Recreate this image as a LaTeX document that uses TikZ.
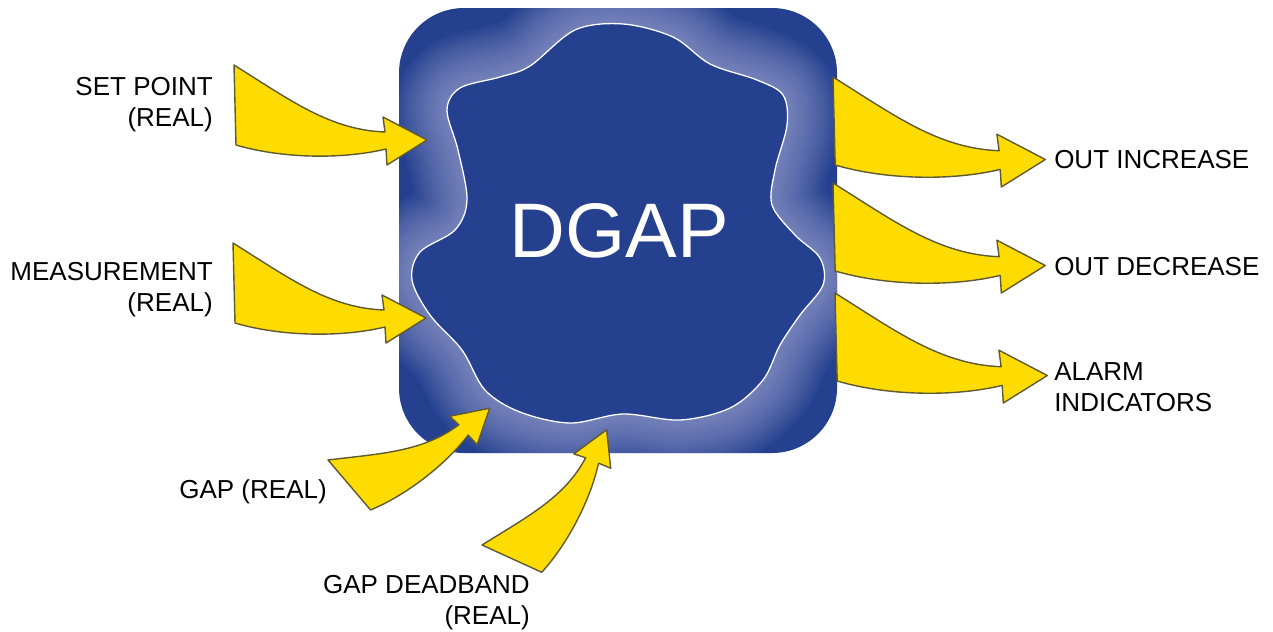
\documentclass[tikz,border=0pt]{standalone}
\usepackage{fontspec}
\setmainfont{Liberation Sans}
\definecolor{boxblue}{RGB}{36,64,142}
\definecolor{glowcol}{RGB}{185,185,228}
\definecolor{arrowfill}{RGB}{255,220,0}
\definecolor{arrowline}{RGB}{95,90,50}
\tikzset{
  yarrow/.style={fill=arrowfill, draw=arrowline, line width=1.2pt, line join=round},
  lbl/.style={inner sep=0pt, font=\fontsize{22.2}{26.4}\selectfont},
  bigtxt/.style={inner sep=0pt, text=white, font=\fontsize{66}{70}\selectfont},
}
\newcommand\blobshape{plot[smooth cycle, tension=0.55] coordinates {
 (623,24) (673,37) (710,64) (757,80) (783,95) (787,125) (775,170) (772,205)
 (795,235) (820,258) (823,285) (800,315) (780,345) (763,380) (730,408) (680,420)
 (623,414) (570,423) (520,412) (485,390) (462,350) (430,315) (412,280) (420,252)
 (455,230) (467,200) (458,150) (447,110) (460,88) (500,77) (530,66) (575,30)}}
\newcommand\yellowarrow[1]{%
 \begin{scope}[#1]
  \draw[yarrow] (0,0) .. controls (56,35) and (96,65) .. (151,67) -- (149,52)
     -- (193,75) -- (153,100) -- (152,84) .. controls (106,95) and (46,93) .. (2,80) -- cycle;
 \end{scope}}
\begin{document}
\begin{tikzpicture}[x=0.03cm, y=-0.03cm]
\useasboundingbox (0,0) rectangle (1273,631);
% box
\fill[boxblue, rounded corners=1.95cm] (399,8) rectangle (837,453);
\begin{scope}
 \clip[rounded corners=1.95cm] (399,8) rectangle (837,453);
 \foreach \w in {0.15,0.35,...,3.2} {
   \draw[glowcol, line width=\w cm, opacity=0.05, line join=round] \blobshape;
 }
\end{scope}
\fill[boxblue] \blobshape;
\draw[white, line width=1.1pt] \blobshape;
\node[bigtxt, anchor=base] (dgap) at (619,257) {DGAP};
% arrows
\yellowarrow{shift={(234,65)}}
\yellowarrow{shift={(233,243)}}
\yellowarrow{shift={(328,460)}, rotate=39, scale=0.82}
\yellowarrow{shift={(482,545)}, rotate=64, scale=0.82}
\yellowarrow{shift={(833,77)}, scale=1.1}
\yellowarrow{shift={(833,183)}, scale=1.1}
\yellowarrow{shift={(835,293)}, scale=1.1}
% labels
\node[lbl, anchor=north east, align=right] (sp) at (213,77) {SET POINT\\(REAL)};
\node[lbl, anchor=north east, align=right] (ms) at (213,262) {MEASUREMENT\\(REAL)};
\node[lbl, anchor=base east] (gp) at (327,498) {GAP (REAL)};
\node[lbl, anchor=north east, align=right] (gd) at (530,575) {GAP DEADBAND\\(REAL)};
\node[lbl, anchor=base west] (oi) at (1054,168) {OUT INCREASE};
\node[lbl, anchor=base west] (od) at (1054,275) {OUT DECREASE};
\node[lbl, anchor=north west, align=left] (al) at (1054,362) {ALARM\\INDICATORS};
\end{tikzpicture}
\end{document}
